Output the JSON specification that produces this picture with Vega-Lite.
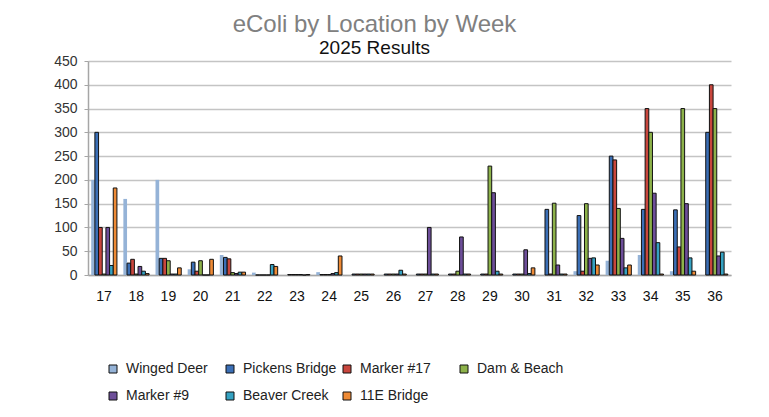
{
  "$schema": "https://vega.github.io/schema/vega-lite/v6.json",
  "autosize": {"type": "none"},
  "width": 643,
  "height": 214,
  "padding": {"left": 88, "top": 61, "right": 38, "bottom": 142},
  "background": "white",
  "config": {
    "font": "Liberation Sans",
    "view": {"stroke": null}
  },
  "title": {
    "text": "eColi by Location by Week",
    "subtitle": "2025 Results",
    "anchor": "middle",
    "frame": "group",
    "dx": -35,
    "fontSize": 24,
    "fontWeight": "normal",
    "color": "#808080",
    "subtitleFontSize": 19,
    "subtitleColor": "#111111",
    "subtitlePadding": 2,
    "offset": -4
  },
  "data": {"values": [
    {"week":"17","loc":"Winged Deer","v":200},{"week":"17","loc":"Pickens Bridge","v":300},{"week":"17","loc":"Marker #17","v":100},{"week":"17","loc":"Dam & Beach","v":2},{"week":"17","loc":"Marker #9","v":100},{"week":"17","loc":"Beaver Creek","v":20},{"week":"17","loc":"11E Bridge","v":183},
    {"week":"18","loc":"Winged Deer","v":160},{"week":"18","loc":"Pickens Bridge","v":25},{"week":"18","loc":"Marker #17","v":33},{"week":"18","loc":"Dam & Beach","v":2},{"week":"18","loc":"Marker #9","v":18},{"week":"18","loc":"Beaver Creek","v":8},{"week":"18","loc":"11E Bridge","v":3},
    {"week":"19","loc":"Winged Deer","v":200},{"week":"19","loc":"Pickens Bridge","v":35},{"week":"19","loc":"Marker #17","v":35},{"week":"19","loc":"Dam & Beach","v":30},{"week":"19","loc":"Marker #9","v":2},{"week":"19","loc":"Beaver Creek","v":2},{"week":"19","loc":"11E Bridge","v":15},
    {"week":"20","loc":"Winged Deer","v":12},{"week":"20","loc":"Pickens Bridge","v":27},{"week":"20","loc":"Marker #17","v":8},{"week":"20","loc":"Dam & Beach","v":30},{"week":"20","loc":"Marker #9","v":0},{"week":"20","loc":"Beaver Creek","v":0},{"week":"20","loc":"11E Bridge","v":33},
    {"week":"21","loc":"Winged Deer","v":42},{"week":"21","loc":"Pickens Bridge","v":37},{"week":"21","loc":"Marker #17","v":34},{"week":"21","loc":"Dam & Beach","v":5},{"week":"21","loc":"Marker #9","v":3},{"week":"21","loc":"Beaver Creek","v":6},{"week":"21","loc":"11E Bridge","v":6},
    {"week":"22","loc":"Winged Deer","v":5},{"week":"22","loc":"Pickens Bridge","v":0},{"week":"22","loc":"Marker #17","v":0},{"week":"22","loc":"Dam & Beach","v":0},{"week":"22","loc":"Marker #9","v":0},{"week":"22","loc":"Beaver Creek","v":22},{"week":"22","loc":"11E Bridge","v":18},
    {"week":"23","loc":"Winged Deer","v":0},{"week":"23","loc":"Pickens Bridge","v":1},{"week":"23","loc":"Marker #17","v":1},{"week":"23","loc":"Dam & Beach","v":1},{"week":"23","loc":"Marker #9","v":1},{"week":"23","loc":"Beaver Creek","v":0},{"week":"23","loc":"11E Bridge","v":1},
    {"week":"24","loc":"Winged Deer","v":6},{"week":"24","loc":"Pickens Bridge","v":1},{"week":"24","loc":"Marker #17","v":1},{"week":"24","loc":"Dam & Beach","v":1},{"week":"24","loc":"Marker #9","v":3},{"week":"24","loc":"Beaver Creek","v":5},{"week":"24","loc":"11E Bridge","v":40},
    {"week":"25","loc":"Winged Deer","v":0},{"week":"25","loc":"Pickens Bridge","v":2},{"week":"25","loc":"Marker #17","v":2},{"week":"25","loc":"Dam & Beach","v":2},{"week":"25","loc":"Marker #9","v":2},{"week":"25","loc":"Beaver Creek","v":2},{"week":"25","loc":"11E Bridge","v":2},
    {"week":"26","loc":"Winged Deer","v":0},{"week":"26","loc":"Pickens Bridge","v":2},{"week":"26","loc":"Marker #17","v":2},{"week":"26","loc":"Dam & Beach","v":2},{"week":"26","loc":"Marker #9","v":2},{"week":"26","loc":"Beaver Creek","v":10},{"week":"26","loc":"11E Bridge","v":2},
    {"week":"27","loc":"Winged Deer","v":0},{"week":"27","loc":"Pickens Bridge","v":2},{"week":"27","loc":"Marker #17","v":2},{"week":"27","loc":"Dam & Beach","v":2},{"week":"27","loc":"Marker #9","v":100},{"week":"27","loc":"Beaver Creek","v":2},{"week":"27","loc":"11E Bridge","v":2},
    {"week":"28","loc":"Winged Deer","v":0},{"week":"28","loc":"Pickens Bridge","v":2},{"week":"28","loc":"Marker #17","v":2},{"week":"28","loc":"Dam & Beach","v":8},{"week":"28","loc":"Marker #9","v":80},{"week":"28","loc":"Beaver Creek","v":2},{"week":"28","loc":"11E Bridge","v":2},
    {"week":"29","loc":"Winged Deer","v":0},{"week":"29","loc":"Pickens Bridge","v":2},{"week":"29","loc":"Marker #17","v":2},{"week":"29","loc":"Dam & Beach","v":229},{"week":"29","loc":"Marker #9","v":173},{"week":"29","loc":"Beaver Creek","v":8},{"week":"29","loc":"11E Bridge","v":2},
    {"week":"30","loc":"Winged Deer","v":0},{"week":"30","loc":"Pickens Bridge","v":2},{"week":"30","loc":"Marker #17","v":2},{"week":"30","loc":"Dam & Beach","v":2},{"week":"30","loc":"Marker #9","v":53},{"week":"30","loc":"Beaver Creek","v":3},{"week":"30","loc":"11E Bridge","v":15},
    {"week":"31","loc":"Winged Deer","v":0},{"week":"31","loc":"Pickens Bridge","v":138},{"week":"31","loc":"Marker #17","v":2},{"week":"31","loc":"Dam & Beach","v":151},{"week":"31","loc":"Marker #9","v":21},{"week":"31","loc":"Beaver Creek","v":2},{"week":"31","loc":"11E Bridge","v":2},
    {"week":"32","loc":"Winged Deer","v":8},{"week":"32","loc":"Pickens Bridge","v":125},{"week":"32","loc":"Marker #17","v":8},{"week":"32","loc":"Dam & Beach","v":150},{"week":"32","loc":"Marker #9","v":35},{"week":"32","loc":"Beaver Creek","v":36},{"week":"32","loc":"11E Bridge","v":21},
    {"week":"33","loc":"Winged Deer","v":30},{"week":"33","loc":"Pickens Bridge","v":250},{"week":"33","loc":"Marker #17","v":242},{"week":"33","loc":"Dam & Beach","v":140},{"week":"33","loc":"Marker #9","v":77},{"week":"33","loc":"Beaver Creek","v":15},{"week":"33","loc":"11E Bridge","v":21},
    {"week":"34","loc":"Winged Deer","v":42},{"week":"34","loc":"Pickens Bridge","v":138},{"week":"34","loc":"Marker #17","v":350},{"week":"34","loc":"Dam & Beach","v":300},{"week":"34","loc":"Marker #9","v":172},{"week":"34","loc":"Beaver Creek","v":68},{"week":"34","loc":"11E Bridge","v":2},
    {"week":"35","loc":"Winged Deer","v":8},{"week":"35","loc":"Pickens Bridge","v":137},{"week":"35","loc":"Marker #17","v":59},{"week":"35","loc":"Dam & Beach","v":350},{"week":"35","loc":"Marker #9","v":150},{"week":"35","loc":"Beaver Creek","v":36},{"week":"35","loc":"11E Bridge","v":8},
    {"week":"36","loc":"Winged Deer","v":0},{"week":"36","loc":"Pickens Bridge","v":300},{"week":"36","loc":"Marker #17","v":400},{"week":"36","loc":"Dam & Beach","v":350},{"week":"36","loc":"Marker #9","v":40},{"week":"36","loc":"Beaver Creek","v":48},{"week":"36","loc":"11E Bridge","v":2}
  ]},
  "mark": {"type": "bar", "stroke": "#111111", "strokeWidth": 1},
  "encoding": {
    "x": {
      "field": "week", "type": "nominal", "title": null,
      "scale": {"paddingInner": 0.2, "paddingOuter": 0.1},
      "axis": {"labelAngle": 0, "labelFontSize": 14, "labelColor": "#111111", "ticks": false, "domainColor": "#a6a6a6", "domainWidth": 1.5, "labelPadding": 14}
    },
    "xOffset": {
      "field": "loc", "type": "nominal",
      "sort": ["Winged Deer","Pickens Bridge","Marker #17","Dam & Beach","Marker #9","Beaver Creek","11E Bridge"]
    },
    "y": {
      "field": "v", "type": "quantitative", "title": null,
      "scale": {"domain": [0, 450], "nice": false},
      "axis": {"values": [0,50,100,150,200,250,300,350,400,450], "labelFontSize": 14, "labelColor": "#333333", "gridColor": "#c4c4c4", "gridWidth": 1.5, "domainColor": "#a6a6a6", "domainWidth": 1.5, "tickColor": "#a6a6a6", "tickSize": 4, "labelPadding": 7}
    },
    "color": {
      "field": "loc", "type": "nominal", "title": null,
      "scale": {
        "domain": ["Winged Deer","Pickens Bridge","Marker #17","Dam & Beach","Marker #9","Beaver Creek","11E Bridge"],
        "range": ["#95b3d7","#3b6fb6","#c9463d","#8db24a","#6d4e99","#35a2c2","#ee8a35"]
      },
      "legend": {
        "orient": "none", "legendX": 18, "legendY": 301,
        "direction": "horizontal", "columns": 4, "gridAlign": "all",
        "columnPadding": 3, "rowPadding": 13,
        "symbolType": "square", "symbolSize": 64, "symbolStrokeWidth": 1,
        "labelFontSize": 14, "labelColor": "#222222", "labelOffset": 6,
        "encode": {"symbols": {"update": {"stroke": {"signal": "datum.value === 'Winged Deer' ? 'transparent' : '#111111'"}}}}
      }
    },
    "strokeOpacity": {
      "condition": {"test": "datum.loc === 'Winged Deer'", "value": 0},
      "value": 1
    }
  }
}
